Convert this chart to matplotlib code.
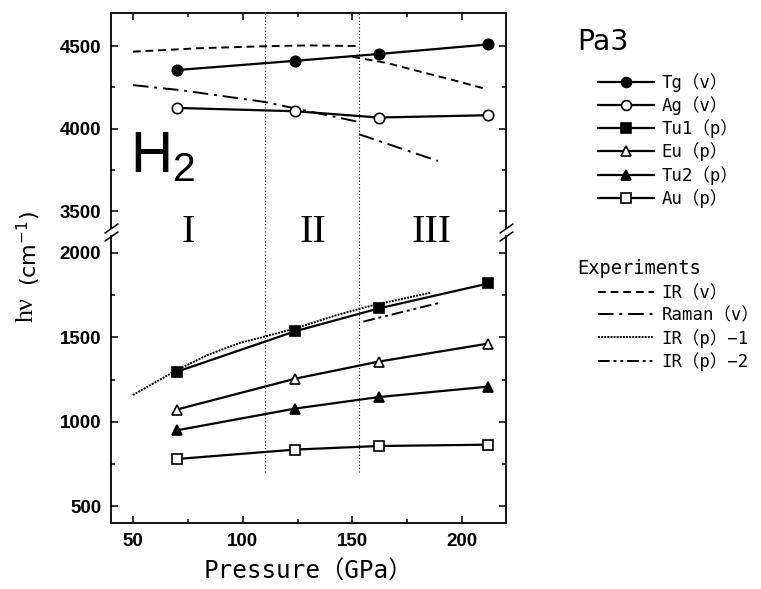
import matplotlib
matplotlib.use('Agg')
import matplotlib.pyplot as plt
from matplotlib.ticker import MultipleLocator
from matplotlib.transforms import blended_transform_factory

# calculated Pa3 phonon frequencies (cm^-1) vs pressure (GPa)
pressure = [70, 124, 162, 212]
tg_v = [4355, 4411, 4452, 4510]
ag_v = [4126, 4106, 4068, 4082]
tu1_p = [1296, 1536, 1671, 1819]
eu_p = [1072, 1255, 1356, 1463]
tu2_p = [949, 1078, 1146, 1208]
au_p = [779, 835, 856, 864]

# experiments
ir_v_p1 = [50, 80, 110, 130, 153]
ir_v_1 = [4466, 4487, 4499, 4504, 4500]
ir_v_p2 = [150, 166, 181, 196, 210]
ir_v_2 = [4435, 4397, 4345, 4294, 4244]
raman_p1 = [50, 72, 110, 135, 153]
raman_1 = [4264, 4233, 4162, 4092, 4041]
raman_p2 = [153, 189]
raman_2 = [3967, 3805]
irp1_p = [50, 70, 84, 99, 110, 124, 143, 160, 186]
irp1 = [1158, 1306, 1395, 1468, 1504, 1553, 1632, 1692, 1765]
irp2_p = [155, 189]
irp2 = [1593, 1702]

phase_bounds = [110, 153]
phase_names = ['I', 'II', 'III']
phase_pos = [75, 132, 186]

model_labels = ['Tg（v）', 'Ag（v）', 'Tu1（p）', 'Eu（p）', 'Tu2（p）', 'Au（p）']
exp_labels = ['IR（v）', 'Raman（v）', 'IR（p）−1', 'IR（p）−2']

mono = ['DejaVu Sans Mono', 'Noto Sans CJK JP']

fig = plt.figure(figsize=(7.61, 5.89), dpi=100)
W, H = 761, 589
left, right = 111 / W, 506 / W
ax_top = fig.add_axes([left, 1 - 228 / H, right - left, 215 / H])
ax_bot = fig.add_axes([left, 1 - 523 / H, right - left, 287 / H])
ax_top.set_zorder(2)
ax_top.patch.set_visible(False)

lw = 1.6
ms = 7.5
styles = [
    dict(marker='o', mfc='k'),
    dict(marker='o', mfc='w'),
    dict(marker='s', mfc='k'),
    dict(marker='^', mfc='w'),
    dict(marker='^', mfc='k'),
    dict(marker='s', mfc='w'),
]
series = [tg_v, ag_v, tu1_p, eu_p, tu2_p, au_p]
handles = []
for i, (vals, st) in enumerate(zip(series, styles)):
    ax = ax_top if i < 2 else ax_bot
    h, = ax.plot(pressure, vals, color='k', lw=lw, ms=ms, mec='k', mew=1.2,
                 zorder=3, **st)
    handles.append(h)

dash_ir = (0, (4, 2.5))
dash_raman = (0, (8, 3, 1.5, 3))
dash_irp1 = (0, (1, 0.6))
dash_irp2 = (0, (6, 2, 1.5, 2, 1.5, 2))
ex_lw = 1.4
h_ir, = ax_top.plot(ir_v_p1, ir_v_1, color='k', lw=ex_lw, ls=dash_ir)
ax_top.plot(ir_v_p2, ir_v_2, color='k', lw=ex_lw, ls=dash_ir)
h_ram, = ax_top.plot(raman_p1, raman_1, color='k', lw=ex_lw, ls=dash_raman)
ax_top.plot(raman_p2, raman_2, color='k', lw=ex_lw, ls=dash_raman)
h_p1, = ax_bot.plot(irp1_p, irp1, color='k', lw=ex_lw, ls=dash_irp1)
h_p2, = ax_bot.plot(irp2_p, irp2, color='k', lw=ex_lw, ls=dash_irp2)

# phase boundaries
for x in phase_bounds:
    ax_top.axvline(x, color='k', lw=0.8, ls=(0, (1, 2)))
    ax_bot.vlines(x, 700, 2150, color='k', lw=0.8, ls=(0, (1, 2)), clip_on=False)

ax_top.set_ylim(3400, 4700)
ax_bot.set_ylim(400, 2100)
for ax in (ax_top, ax_bot):
    ax.set_xlim(40, 220)
    ax.xaxis.set_major_locator(MultipleLocator(50))
    ax.xaxis.set_minor_locator(MultipleLocator(25))
    ax.yaxis.set_major_locator(MultipleLocator(500))
    ax.yaxis.set_minor_locator(MultipleLocator(250))
    ax.tick_params(which='both', direction='in', right=True, width=1.1)
    ax.tick_params(which='major', length=5)
    ax.tick_params(which='minor', length=3)
    ax.tick_params(axis='y', pad=7)
    ax.tick_params(axis='x', pad=7)
    for sp in ax.spines.values():
        sp.set_linewidth(1.3)
    for lab in ax.get_xticklabels() + ax.get_yticklabels():
        lab.set_fontfamily('Liberation Sans')
        lab.set_fontweight('bold')
        lab.set_fontsize(13.5)

ax_top.spines['bottom'].set_visible(False)
ax_top.tick_params(which='both', bottom=False, labelbottom=False, top=True)
ax_bot.spines['top'].set_visible(False)
ax_bot.tick_params(which='both', top=False)

# break marks
kw = dict(marker=[(-1, -0.7), (1, 0.7)], markersize=10, linestyle='none',
          color='k', mec='k', mew=1.1, clip_on=False)
ax_top.plot([0, 1], [0, 0], transform=ax_top.transAxes, **kw)
ax_bot.plot([0, 1], [1, 1], transform=ax_bot.transAxes, **kw)

# phase labels
tr = blended_transform_factory(ax_top.transData, ax_top.transAxes)
for name, x in zip(phase_names, phase_pos):
    ax_top.text(x, -0.02, name, transform=tr, ha='center', va='center',
                family='Liberation Serif', fontsize=29, clip_on=False)

ax_top.text(48.5, 3736, r'$\mathregular{H_2}$', fontsize=42,
            family='Liberation Sans', ha='left', va='baseline')

ax_bot.set_xlabel('Pressure（GPa）', family=mono, fontsize=17.5, labelpad=7)
fig.text(27 / W, 1 - 309 / H, 'hν', rotation=90, ha='center', va='center',
         family='Liberation Serif', fontsize=19)
fig.text(29 / W, 1 - 248 / H, '(cm$^{-1}$)', rotation=90, ha='center',
         va='center', family='DejaVu Sans', fontsize=16)

fig.text(577 / W, 1 - 50 / H, 'Pa3', family='DejaVu Sans', fontsize=20.5,
         va='baseline')
fig.text(577 / W, 1 - 274 / H, 'Experiments', family=mono, fontsize=13.5,
         va='baseline')
leg_kw = dict(loc='upper left', frameon=False, prop={'family': mono, 'size': 12.5},
              handlelength=3.2, handletextpad=0.45, labelspacing=0.25,
              borderpad=0, borderaxespad=0)
fig.legend(handles, model_labels, bbox_to_anchor=(598 / W, 1 - 73 / H),
           markerscale=0.95, **leg_kw)
fig.legend([h_ir, h_ram, h_p1, h_p2], exp_labels,
           bbox_to_anchor=(598 / W, 1 - 284 / H), **leg_kw)

fig.savefig('out.png', dpi=100)
